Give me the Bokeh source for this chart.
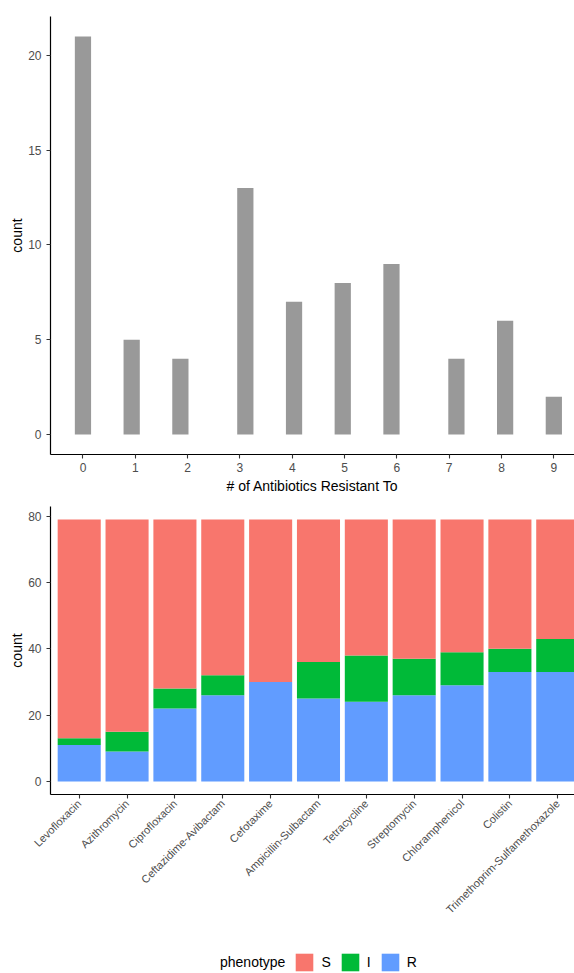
import math
from bokeh.plotting import figure
from bokeh.layouts import column
from bokeh.models import Range1d, FixedTicker, Legend, LegendItem, ColumnDataSource
from bokeh.embed import file_html
from bokeh.resources import INLINE

# ---- data: top histogram ----
n_resistant = [0, 1, 2, 3, 4, 5, 6, 7, 8, 9]
n_isolates = [21, 5, 4, 13, 7, 8, 9, 4, 6, 2]
x_ticks_top = [0, 1, 2, 3, 4, 5, 6, 7, 8, 9]
y_ticks_top = [0, 5, 10, 15, 20]

# ---- data: bottom stacked bars ----
antibiotics = ["Levofloxacin", "Azithromycin", "Ciprofloxacin", "Ceftazidime-Avibactam",
               "Cefotaxime", "Ampicillin-Sulbactam", "Tetracycline", "Streptomycin",
               "Chloramphenicol", "Colistin", "Trimethoprim-Sulfamethoxazole"]
count_R = [11, 9, 22, 26, 30, 25, 24, 26, 29, 33, 33]
count_I = [2, 6, 6, 6, 0, 11, 14, 11, 10, 7, 10]
count_S = [66, 64, 51, 47, 49, 43, 41, 42, 40, 39, 36]
phenotypes = ["S", "I", "R"]
y_ticks_bottom = [0, 20, 40, 60, 80]

FONT = "Liberation Sans"
COLORS = {"S": "#F8766D", "I": "#00BA38", "R": "#619CFF"}


def style(p):
    p.outline_line_color = None
    p.xgrid.visible = False
    p.ygrid.visible = False
    p.background_fill_color = "white"
    p.border_fill_color = "white"
    for ax in (p.xaxis[0], p.yaxis[0]):
        ax.axis_line_color = "black"
        ax.axis_line_width = 1.2
        ax.major_tick_line_color = "#333333"
        ax.major_tick_line_width = 1.1
        ax.major_tick_out = 4
        ax.major_tick_in = 0
        ax.minor_tick_line_color = None
        ax.major_label_text_font = FONT
        ax.major_label_text_font_size = "12px"
        ax.major_label_text_color = "#4D4D4D"
        ax.major_label_standoff = 4
        ax.axis_label_text_font = FONT
        ax.axis_label_text_font_size = "14px"
        ax.axis_label_text_font_style = "normal"
        ax.axis_label_text_color = "black"
        ax.axis_label_standoff = 3
    p.yaxis[0].major_label_standoff = 5
    p.yaxis[0].axis_label_standoff = 0
    p.yaxis[0].axis_label_text_line_height = 1.0


# histogram binning like ggplot's default (30 bins over the data range)
bins = 30
bw = (max(n_resistant) - min(n_resistant)) / (bins - 1)
centers = [round(v / bw) * bw for v in n_resistant]

p1 = figure(width=574, height=500,
            x_range=Range1d(-0.6205, 9.395), y_range=Range1d(-1.05, 22.05),
            output_backend="svg", toolbar_location=None,
            min_border_left=49, min_border_right=0, min_border_top=16, min_border_bottom=46)
p1.vbar(x=centers, top=n_isolates, bottom=0, width=bw,
        fill_color="#999999", line_color=None)
style(p1)
p1.xaxis.ticker = FixedTicker(ticks=x_ticks_top)
p1.yaxis.ticker = FixedTicker(ticks=y_ticks_top)
p1.xaxis.axis_label = "# of Antibiotics Resistant To"
p1.yaxis.axis_label = "count"

# ---- bottom figure ----
xpos = list(range(1, len(antibiotics) + 1))
source = ColumnDataSource(dict(x=xpos, R=count_R, I=count_I, S=count_S))

p2 = figure(width=574, height=434,
            x_range=Range1d(0.4, 11.35), y_range=Range1d(-3.95, 82.95),
            output_backend="svg", toolbar_location=None,
            min_border_left=50, min_border_right=0, min_border_top=6, min_border_bottom=140)
p2.vbar_stack(["R", "I", "S"], x="x", width=0.9, source=source,
              fill_color=[COLORS["R"], COLORS["I"], COLORS["S"]], line_color=None)
style(p2)
p2.xaxis.ticker = FixedTicker(ticks=xpos)
p2.xaxis.major_label_overrides = {x: name for x, name in zip(xpos, antibiotics)}
p2.xaxis.major_label_orientation = math.pi / 4
p2.xaxis.major_label_text_font_size = "11px"
p2.xaxis.major_label_standoff = 3
p2.yaxis.ticker = FixedTicker(ticks=y_ticks_bottom)
p2.yaxis.axis_label = "count"

# ---- legend strip (same data, ranges set so bars stay off-screen) ----
p3 = figure(width=574, height=39, x_range=Range1d(-100, -99), y_range=Range1d(-100, -99),
            output_backend="svg", toolbar_location=None,
            x_axis_type=None, y_axis_type=None,
            min_border_left=0, min_border_right=0, min_border_top=0, min_border_bottom=0)
p3.outline_line_color = None
p3.xgrid.visible = False
p3.ygrid.visible = False
title_r = p3.vbar(x="x", top="S", width=0.9, source=source, fill_alpha=0, line_alpha=0)
stack = p3.vbar_stack(["R", "I", "S"], x="x", width=0.9, source=source,
                      fill_color=[COLORS["R"], COLORS["I"], COLORS["S"]], line_color=None)
by_name = {"R": stack[0], "I": stack[1], "S": stack[2]}
items = [LegendItem(label="phenotype", renderers=[title_r])]
items += [LegendItem(label=lab, renderers=[by_name[lab]]) for lab in phenotypes]
legend = Legend(items=items, orientation="horizontal", location=(142, 0),
                glyph_width=22, glyph_height=22, label_standoff=6, spacing=8,
                label_width=2, label_height=22,
                label_text_font=FONT, label_text_font_size="14px", label_text_color="black",
                border_line_color=None, background_fill_alpha=0, margin=0, padding=0)
p3.add_layout(legend)

layout = column(p1, p2, p3)
open("out.html", "w").write(file_html(layout, INLINE))
